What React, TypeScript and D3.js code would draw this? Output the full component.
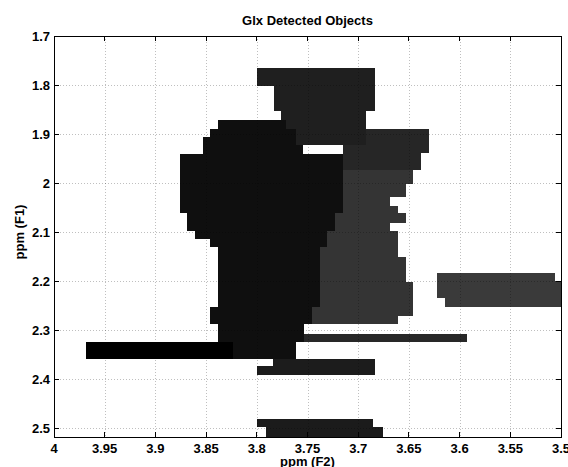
import React from "react";
import * as d3 from "d3";

// Axis ticks
const xTicks = [4, 3.95, 3.9, 3.85, 3.8, 3.75, 3.7, 3.65, 3.6, 3.55, 3.5];
const yTicks = [1.7, 1.8, 1.9, 2.0, 2.1, 2.2, 2.3, 2.4, 2.5];

// Detected objects: rows of [yTop, yBottom, xLeft(ppm), xRight(ppm)]
const objectD = [
  [1.890, 1.939, 3.715, 3.630],
  [1.939, 1.973, 3.715, 3.638],
];
const objectC = [
  [1.973, 2.002, 3.760, 3.646],
  [2.002, 2.028, 3.760, 3.653],
  [2.028, 2.047, 3.760, 3.669],
  [2.047, 2.062, 3.760, 3.661],
  [2.062, 2.081, 3.760, 3.653],
  [2.081, 2.097, 3.760, 3.669],
  [2.097, 2.150, 3.760, 3.661],
  [2.150, 2.201, 3.760, 3.653],
  [2.201, 2.271, 3.760, 3.646],
  [2.271, 2.288, 3.760, 3.661],
];
const objectA = [
  [1.766, 1.803, 3.800, 3.683],
  [1.803, 1.852, 3.783, 3.683],
  [1.852, 1.922, 3.776, 3.692],
];
const objectB = [
  [1.871, 1.890, 3.838, 3.771],
  [1.890, 1.906, 3.846, 3.761],
  [1.906, 1.922, 3.853, 3.761],
  [1.922, 1.941, 3.853, 3.754],
  [1.941, 2.062, 3.876, 3.715],
  [2.062, 2.098, 3.869, 3.723],
  [2.098, 2.115, 3.861, 3.731],
  [2.115, 2.130, 3.846, 3.731],
  [2.130, 2.252, 3.838, 3.738],
  [2.252, 2.288, 3.846, 3.746],
  [2.288, 2.324, 3.838, 3.753],
  [2.324, 2.358, 3.838, 3.761],
];
const objectE = [[2.324, 2.358, 3.968, 3.823]];
const objectG = [[2.307, 2.324, 3.753, 3.593]];
const objectF = [
  [2.358, 2.374, 3.784, 3.683],
  [2.374, 2.392, 3.800, 3.683],
];
const objectH = [
  [2.482, 2.498, 3.800, 3.685],
  [2.498, 2.520, 3.791, 3.676],
];
const objectI = [
  [2.184, 2.199, 3.622, 3.506],
  [2.199, 2.235, 3.622, 3.500],
  [2.235, 2.252, 3.614, 3.500],
];

const objects: { rows: number[][]; color: string }[] = [
  { rows: objectD, color: "#262626" },
  { rows: objectC, color: "#343434" },
  { rows: objectA, color: "#1f1f1f" },
  { rows: objectB, color: "#0f0f0f" },
  { rows: objectE, color: "#000000" },
  { rows: objectG, color: "#282828" },
  { rows: objectF, color: "#1c1c1c" },
  { rows: objectH, color: "#1b1b1b" },
  { rows: objectI, color: "#3a3a3a" },
];

const W = 568;
const H = 467;
const L = 54, R = 561, T = 36, B = 437;

export default function App() {
  const x = d3.scaleLinear().domain([4, 3.5]).range([L, R]);
  const y = d3.scaleLinear().domain([1.7, 2.518]).range([T, B]);
  const font = "'Liberation Sans', Arial, Helvetica, sans-serif";
  const fmt = (v: number) => String(+v.toFixed(2));
  const tick = 5;
  return (
    <svg width={W} height={H} style={{ position: "absolute", left: 0, top: 0, background: "#fff" }}>
      <defs>
        <clipPath id="plot">
          <rect x={L} y={T} width={R - L} height={B - T} />
        </clipPath>
      </defs>
      <rect x={0} y={0} width={W} height={H} fill="#fff" />
      <g clipPath="url(#plot)" shapeRendering="crispEdges">
        {objects.map((o, i) =>
          o.rows.map((r, j) => {
            const x0 = x(r[2]);
            const x1 = x(r[3]);
            const y0 = y(r[0]);
            const y1 = y(r[1]);
            return (
              <rect key={`${i}-${j}`} x={x0} y={y0} width={x1 - x0} height={y1 - y0} fill={o.color} />
            );
          })
        )}
      </g>
      <g stroke="#000" strokeOpacity={0.25} strokeDasharray="1,2" strokeWidth={1}>
        {xTicks.slice(1, -1).map((t) => (
          <line key={"gx" + t} x1={Math.round(x(t)) + 0.5} x2={Math.round(x(t)) + 0.5} y1={T} y2={B} />
        ))}
        {yTicks.slice(1).map((t) => (
          <line key={"gy" + t} x1={L} x2={R} y1={Math.round(y(t)) + 0.5} y2={Math.round(y(t)) + 0.5} />
        ))}
      </g>
      <g stroke="#000" strokeWidth={1} shapeRendering="crispEdges">
        <rect x={L} y={T} width={R - L} height={B - T} fill="none" />
        {xTicks.map((t) => (
          <g key={"tx" + t}>
            <line x1={x(t)} x2={x(t)} y1={B} y2={B - tick} />
            <line x1={x(t)} x2={x(t)} y1={T} y2={T + tick} />
          </g>
        ))}
        {yTicks.map((t) => (
          <g key={"ty" + t}>
            <line x1={L} x2={L + tick} y1={y(t)} y2={y(t)} />
            <line x1={R} x2={R - tick} y1={y(t)} y2={y(t)} />
          </g>
        ))}
      </g>
      <g fontFamily={font} fontWeight="bold" fontSize={13} fill="#000">
        {xTicks.map((t) => (
          <text key={"lx" + t} x={x(t)} y={453} textAnchor="middle">
            {fmt(t)}
          </text>
        ))}
        {yTicks.map((t) => (
          <text key={"ly" + t} x={50} y={y(t) + 4.5} textAnchor="end">
            {fmt(t)}
          </text>
        ))}
        <text x={(L + R) / 2} y={25} textAnchor="middle">
          Glx Detected Objects
        </text>
        <text x={(L + R) / 2} y={466} textAnchor="middle">
          ppm (F2)
        </text>
        <text transform={`translate(24,232) rotate(-90)`} textAnchor="middle">
          ppm (F1)
        </text>
      </g>
    </svg>
  );
}
